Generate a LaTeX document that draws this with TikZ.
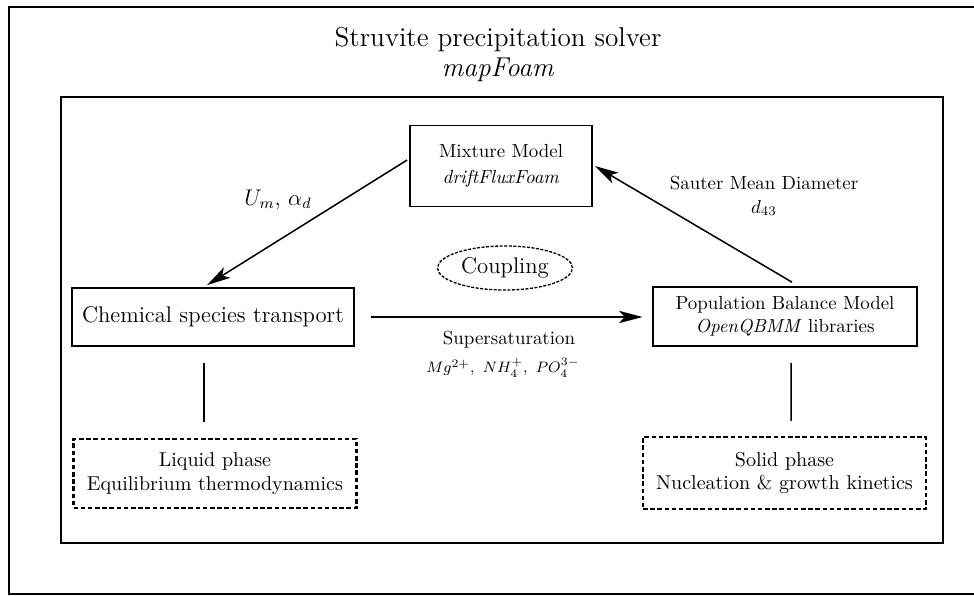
\documentclass[tikz,border=0pt]{standalone}
\usetikzlibrary{arrows.meta,calc,shapes.geometric}
\begin{document}
\begin{tikzpicture}[x=0.529pt,y=-0.529pt,
  frame/.style={line width=1.4pt},
  box/.style={draw, line width=0.9pt, rectangle, align=center, inner sep=0pt},
  phasebox/.style={draw, line width=1.1pt, dash pattern=on 2.4pt off 1.4pt,
    rectangle, align=center, inner sep=0pt, minimum width=149.7pt,
    font=\fontsize{10.6}{12.6}\selectfont},
  arr/.style={-{Stealth[length=12.5pt,width=6.5pt,inset=3pt]}, line width=0.8pt},
  link/.style={line width=0.8pt},
  lbl/.style={align=center, inner sep=0pt}]
\useasboundingbox (0,0) rectangle (974,596);

% frames
\draw[frame] (9,7) rectangle (996,594);
\draw[frame] (61,97) rectangle (943,543);

% title
\node[lbl, font=\Large] (title) at (498,40) {Struvite precipitation solver};
\node[lbl, font=\Large] (solver) at (498,70) {\textit{mapFoam}};

% models
\node[box, minimum width=96.3pt, minimum height=42.8pt] (mix) at (501,166)
  {Mixture Model\\[2pt] \textit{driftFluxFoam}};
\node[box, font=\large, minimum width=149.2pt, minimum height=30.7pt] (chem) at (213,317)
  {Chemical species transport};
\node[box, minimum width=139.7pt, minimum height=31.2pt] (pbm) at (785,316.5)
  {Population Balance Model\\ \textit{OpenQBMM} libraries};
\node[draw, ellipse, line width=0.7pt, dash pattern=on 1.6pt off 0.8pt, font=\large,
  inner sep=0pt, minimum width=71.4pt, minimum height=23.3pt] (coup) at (505,268) {Coupling};

% phases
\node[phasebox, minimum height=36.5pt] (liq) at (215,473.5)
  {Liquid phase\\ Equilibrium thermodynamics};
\node[phasebox, minimum height=38.1pt] (sol) at (784.5,473)
  {Solid phase\\ Nucleation \& growth kinetics};

% exchanged quantities
\node[lbl, font=\large] (uvel) at (278,200) {$U_m$, $\alpha_d$};
\node[lbl] (sauter) at (764,183) {Sauter Mean Diameter};
\node[lbl] (dfour) at (764,208) {$d_{43}$};
\node[lbl] (super) at (509,340) {Supersaturation};
\node[lbl, font=\fontsize{8.4}{10}\selectfont] (ions) at (503,368) {$Mg^{2+},\ NH_4^{+},\ PO_4^{3-}$};

% connectors
\draw[arr] ($(mix.west)+(-2,-6)$) -- ($(chem.north)+(-6,-2)$);
\draw[arr] ($(pbm.north)+(7,-4)$) -- ($(mix.east)+(2,0)$);
\draw[arr, shorten <=8.5pt, shorten >=5pt] (chem.east) -- (pbm.west |- chem.east);
\draw[link] ($(chem.south)+(-9,16)$) -- ($(liq.north)+(-11,-16)$);
\draw[link] ($(pbm.south)+(6,16)$) -- ($(sol.north)+(6.5,-15)$);
\end{tikzpicture}
\end{document}
